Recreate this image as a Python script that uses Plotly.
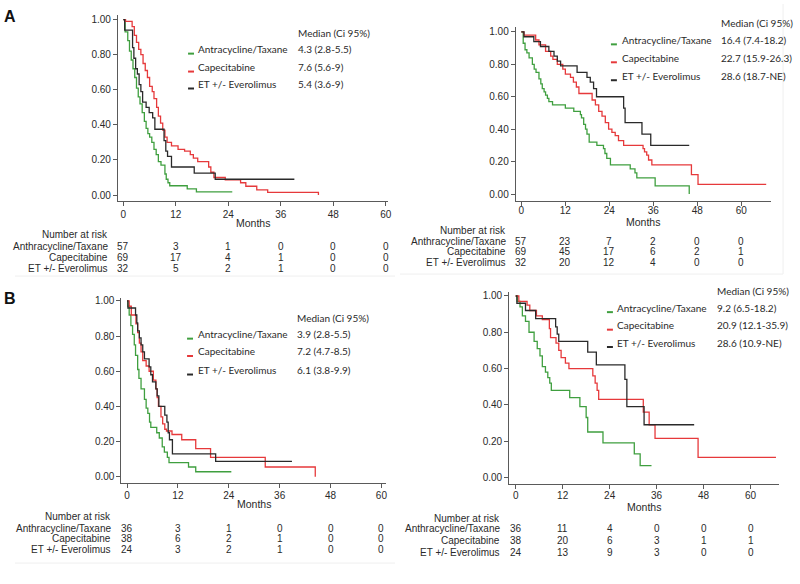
import plotly.graph_objects as go

W, H = 800, 584

# ---------------- data ----------------
month_ticks = [0, 12, 24, 36, 48, 60]
surv_ticks = [0.0, 0.2, 0.4, 0.6, 0.8, 1.0]
legend_names = ["Antracycline/Taxane", "Capecitabine", "ET +/- Everolimus"]
table_names = ["Anthracycline/Taxane", "Capecitabine", "ET +/- Everolimus"]
median_header = "Median (Ci 95%)"

# Panel A, left (PFS)
a_pfs_green_t = [0, 0.4, 1.0, 1.4, 1.8, 2.2, 2.6, 3.0, 3.4, 3.8, 4.3, 4.8, 5.2, 5.6, 6.0, 6.5, 7.0, 7.5, 8.0, 8.6, 9.5, 9.8, 10.2, 10.6, 14.6, 16.7, 24.9]
a_pfs_green_s = [1.0, 0.93, 0.88, 0.82, 0.77, 0.72, 0.67, 0.61, 0.56, 0.52, 0.47, 0.42, 0.38, 0.35, 0.33, 0.30, 0.26, 0.23, 0.19, 0.17, 0.12, 0.09, 0.07, 0.053, 0.035, 0.018, 0.018]
a_pfs_red_t = [0, 0.5, 2.0, 2.5, 3.0, 3.5, 4.0, 4.5, 5.0, 5.5, 6.0, 6.6, 7.0, 7.6, 8.0, 8.5, 9.0, 9.5, 10.0, 11.0, 12.5, 14.0, 15.3, 16.0, 17.0, 19.5, 20.0, 20.7, 23.3, 26.8, 28.0, 30.5, 33.0, 44.6]
a_pfs_red_s = [1.0, 0.99, 0.96, 0.91, 0.87, 0.83, 0.80, 0.75, 0.71, 0.67, 0.62, 0.59, 0.55, 0.50, 0.45, 0.41, 0.37, 0.33, 0.30, 0.28, 0.26, 0.25, 0.23, 0.21, 0.19, 0.16, 0.13, 0.10, 0.087, 0.07, 0.05, 0.03, 0.015, 0.0]
a_pfs_black_t = [0, 0.3, 2.1, 2.4, 2.8, 3.2, 3.6, 4.0, 4.4, 5.2, 5.9, 6.7, 7.2, 9.3, 9.7, 10.1, 11.0, 16.2, 21.0, 39.1]
a_pfs_black_s = [1.0, 0.94, 0.84, 0.78, 0.72, 0.69, 0.63, 0.59, 0.53, 0.50, 0.47, 0.44, 0.375, 0.31, 0.25, 0.22, 0.16, 0.125, 0.09, 0.09]
a_pfs_medians = ["4.3 (2.8-5.5)", "7.6 (5.6-9)", "5.4 (3.6-9)"]
a_pfs_risk_green = [57, 3, 1, 0, 0, 0]
a_pfs_risk_red = [69, 17, 4, 1, 0, 0]
a_pfs_risk_black = [32, 5, 2, 1, 0, 0]

# Panel A, right (OS)
a_os_green_t = [0, 0.5, 1.0, 1.5, 2.1, 3.0, 3.5, 4.0, 4.8, 5.3, 5.7, 6.2, 6.6, 7.1, 7.5, 8.5, 12.0, 14.3, 16.1, 16.4, 17.0, 17.5, 17.9, 18.5, 20.6, 22.4, 22.8, 23.3, 24.3, 29.7, 31.0, 31.5, 36.5, 45.8]
a_os_green_s = [1.0, 0.93, 0.89, 0.87, 0.84, 0.80, 0.77, 0.75, 0.71, 0.68, 0.65, 0.63, 0.61, 0.59, 0.57, 0.55, 0.53, 0.51, 0.49, 0.47, 0.43, 0.40, 0.37, 0.32, 0.30, 0.28, 0.25, 0.22, 0.18, 0.155, 0.13, 0.10, 0.05, 0.0]
a_os_red_t = [0, 0.7, 3.9, 4.8, 6.6, 8.0, 8.6, 9.8, 11.3, 12.0, 13.4, 14.2, 15.0, 15.7, 19.3, 20.2, 21.1, 22.0, 22.9, 23.8, 24.7, 25.6, 26.5, 27.9, 33.2, 33.6, 34.2, 34.7, 35.6, 46.4, 48.2, 66.8]
a_os_red_s = [1.0, 0.98, 0.95, 0.92, 0.88, 0.85, 0.83, 0.80, 0.77, 0.74, 0.72, 0.69, 0.66, 0.62, 0.58, 0.55, 0.51, 0.48, 0.44, 0.40, 0.38, 0.36, 0.33, 0.30, 0.28, 0.26, 0.24, 0.21, 0.18, 0.12, 0.06, 0.06]
a_os_black_t = [0, 0.7, 3.4, 5.2, 7.5, 8.9, 9.8, 10.7, 15.2, 17.9, 18.8, 19.7, 20.5, 27.9, 28.3, 32.9, 35.3, 45.8]
a_os_black_s = [1.0, 0.97, 0.94, 0.91, 0.88, 0.85, 0.82, 0.79, 0.75, 0.72, 0.69, 0.65, 0.60, 0.53, 0.44, 0.37, 0.30, 0.30]
a_os_medians = ["16.4 (7.4-18.2)", "22.7 (15.9-26.3)", "28.6 (18.7-NE)"]
a_os_risk_green = [57, 23, 7, 2, 0, 0]
a_os_risk_red = [69, 45, 17, 6, 2, 1]
a_os_risk_black = [32, 20, 12, 4, 0, 0]

# Panel B, left (PFS)
b_pfs_green_t = [0, 0.2, 0.5, 0.9, 1.3, 1.7, 2.0, 2.5, 2.8, 3.3, 4.1, 4.5, 4.9, 5.3, 5.6, 7.0, 7.6, 8.3, 8.8, 9.5, 9.9, 14.5, 16.2, 24.6]
b_pfs_green_s = [1.0, 0.97, 0.92, 0.86, 0.81, 0.75, 0.69, 0.61, 0.56, 0.50, 0.44, 0.39, 0.36, 0.31, 0.28, 0.25, 0.22, 0.17, 0.14, 0.11, 0.08, 0.055, 0.028, 0.028]
b_pfs_red_t = [0, 0.5, 1.0, 2.1, 2.5, 2.9, 3.3, 3.7, 4.5, 5.2, 6.2, 6.8, 7.1, 7.4, 8.0, 8.4, 8.9, 9.3, 10.6, 12.9, 16.2, 19.7, 32.6, 44.4]
b_pfs_red_s = [1.0, 0.97, 0.92, 0.87, 0.82, 0.76, 0.71, 0.66, 0.63, 0.60, 0.55, 0.50, 0.45, 0.40, 0.34, 0.30, 0.27, 0.26, 0.24, 0.21, 0.16, 0.11, 0.055, 0.0]
b_pfs_black_t = [0, 0.2, 2.0, 2.3, 2.5, 2.9, 3.3, 3.7, 4.1, 5.2, 5.6, 6.0, 6.8, 7.1, 7.5, 8.9, 9.4, 9.7, 10.0, 10.7, 20.9, 38.9]
b_pfs_black_s = [1.0, 0.96, 0.92, 0.875, 0.83, 0.79, 0.75, 0.71, 0.67, 0.625, 0.58, 0.54, 0.50, 0.46, 0.40, 0.35, 0.31, 0.25, 0.21, 0.13, 0.087, 0.087]
b_pfs_medians = ["3.9 (2.8-5.5)", "7.2 (4.7-8.5)", "6.1 (3.8-9.9)"]
b_pfs_risk_green = [36, 3, 1, 0, 0, 0]
b_pfs_risk_red = [38, 6, 2, 1, 0, 0]
b_pfs_risk_black = [24, 3, 2, 1, 0, 0]

# Panel B, right (OS)
b_os_green_t = [0, 0.4, 1.1, 1.7, 2.5, 3.4, 4.7, 5.5, 6.2, 6.8, 7.6, 8.2, 8.7, 9.1, 13.8, 16.4, 18.0, 18.4, 22.3, 30.3, 31.8, 34.7]
b_os_green_s = [1.0, 0.97, 0.94, 0.89, 0.86, 0.80, 0.75, 0.71, 0.67, 0.61, 0.58, 0.55, 0.52, 0.48, 0.44, 0.39, 0.33, 0.25, 0.19, 0.13, 0.065, 0.065]
b_os_red_t = [0, 0.8, 2.9, 3.6, 5.3, 6.8, 8.6, 8.9, 10.3, 11.0, 11.6, 12.7, 13.6, 19.7, 20.3, 20.8, 21.2, 32.6, 34.1, 35.6, 46.6, 66.5]
b_os_red_s = [1.0, 0.97, 0.95, 0.92, 0.89, 0.87, 0.82, 0.77, 0.74, 0.70, 0.66, 0.63, 0.60, 0.56, 0.52, 0.48, 0.43, 0.36, 0.29, 0.215, 0.11, 0.11]
b_os_black_t = [0, 0.3, 2.5, 5.1, 10.2, 10.6, 11.0, 18.4, 20.6, 27.9, 28.4, 32.8, 45.6]
b_os_black_s = [1.0, 0.96, 0.92, 0.875, 0.83, 0.79, 0.75, 0.69, 0.62, 0.54, 0.39, 0.29, 0.29]
b_os_medians = ["9.2 (6.5-18.2)", "20.9 (12.1-35.9)", "28.6 (10.9-NE)"]
b_os_risk_green = [36, 11, 4, 0, 0, 0]
b_os_risk_red = [38, 20, 6, 3, 1, 1]
b_os_risk_black = [24, 13, 9, 3, 0, 0]

# ---------------- styling / layout ----------------
COLORS = ["#3f9f3f", "#e6393b", "#2a2a2a"]
AXC = "#5a5a5a"
TXT = "#2a2a2a"
ARIAL = "Liberation Sans, Arial, sans-serif"
CAL = "Lato, Carlito, Calibri, sans-serif"
LEG_SIZE = 10

def px_x(p):
    return p / W

def px_y(p):
    return 1 - p / H

panels = [
    dict(curves=[(a_pfs_green_t, a_pfs_green_s), (a_pfs_red_t, a_pfs_red_s), (a_pfs_black_t, a_pfs_black_s)],
         risks=[a_pfs_risk_green, a_pfs_risk_red, a_pfs_risk_black], medians=a_pfs_medians,
         g=dict(al=118.5, ar=390, at=13, ab=200, x0=124, x60=387.7, y1=17.7, y0=193.7),
         leg=dict(seg=189, txt=197, val=297, hdr_y=31, rows=[47.3, 65.3, 82.3]),
         tab=dict(lab=111, hdr=233, rows=[245, 256.5, 267.5]), months_y=222, stand=0),
    dict(curves=[(a_os_green_t, a_os_green_s), (a_os_red_t, a_os_red_s), (a_os_black_t, a_os_black_s)],
         risks=[a_os_risk_green, a_os_risk_red, a_os_risk_black], medians=a_os_medians,
         g=dict(al=518.3, ar=775, at=25, ab=200, x0=524, x60=745, y1=30, y0=192.7),
         leg=dict(seg=614, txt=622.7, val=722.7, hdr_y=21, rows=[38, 56, 74]),
         tab=dict(lab=511, hdr=229, rows=[240, 250.5, 261]), months_y=220.5, stand=-4),
    dict(curves=[(b_pfs_green_t, b_pfs_green_s), (b_pfs_red_t, b_pfs_red_s), (b_pfs_black_t, b_pfs_black_s)],
         risks=[b_pfs_risk_green, b_pfs_risk_red, b_pfs_risk_black], medians=b_pfs_medians,
         g=dict(al=122, ar=388, at=296.7, ab=482.3, x0=127.7, x60=383.3, y1=300, y0=476.3),
         leg=dict(seg=188, txt=196.7, val=296.7, hdr_y=316.7, rows=[333.3, 350.7, 369.3]),
         tab=dict(lab=113.3, hdr=516.7, rows=[528.3, 538.8, 549.3]), months_y=504, stand=-1),
    dict(curves=[(b_os_green_t, b_os_green_s), (b_os_red_t, b_os_red_s), (b_os_black_t, b_os_black_s)],
         risks=[b_os_risk_green, b_os_risk_red, b_os_risk_black], medians=b_os_medians,
         g=dict(al=511.7, ar=783, at=290.7, ab=483.3, x0=518.3, x60=754.3, y1=295, y0=477),
         leg=dict(seg=610, txt=618.3, val=718.3, hdr_y=290, rows=[306.7, 324.3, 341.7]),
         tab=dict(lab=505, hdr=518.3, rows=[528.3, 540.5, 552.7]), months_y=506.5, stand=-2),
]

fig = go.Figure()
layout = dict(width=W, height=H, margin=dict(l=0, r=0, t=0, b=0),
              paper_bgcolor="white", plot_bgcolor="white", showlegend=False)
annotations = []
shapes = []

for i, p in enumerate(panels, start=1):
    g = p["g"]
    kx = (g["x60"] - g["x0"]) / 60.0
    ky = (g["y0"] - g["y1"])
    xr = [(g["al"] - g["x0"]) / kx, (g["ar"] - g["x0"]) / kx]
    yr = [-(g["ab"] - g["y0"]) / ky, 1 + (g["y1"] - g["at"]) / ky]
    xa = "xaxis" if i == 1 else f"xaxis{i}"
    ya = "yaxis" if i == 1 else f"yaxis{i}"
    xref = "x" if i == 1 else f"x{i}"
    yref = "y" if i == 1 else f"y{i}"
    common = dict(showline=True, linecolor=AXC, linewidth=1, ticks="outside", ticklen=4,
                  tickcolor=AXC, tickwidth=1, showgrid=False, zeroline=False,
                  tickfont=dict(family=ARIAL, size=10, color=TXT), fixedrange=True)
    layout[xa] = dict(domain=[px_x(g["al"]), px_x(g["ar"])], range=xr, anchor=yref,
                      tickvals=month_ticks, ticklabelstandoff=p["stand"], **common)
    layout[ya] = dict(domain=[px_y(g["ab"]), px_y(g["at"])], range=yr, anchor=xref,
                      tickvals=surv_ticks, tickformat=".2f", **common)
    for (t, s), c in zip(p["curves"], COLORS):
        fig.add_trace(go.Scatter(x=t, y=s, mode="lines", line=dict(color=c, width=1.3, shape="hv"),
                                 xaxis=xref, yaxis=yref, hoverinfo="skip"))
    # legend block
    L = p["leg"]
    annotations.append(dict(text=median_header, x=px_x(L["val"]), y=px_y(L["hdr_y"]), xref="paper", yref="paper",
                            xanchor="left", yanchor="middle", showarrow=False,
                            font=dict(family=CAL, size=LEG_SIZE, color=TXT)))
    for name, med, c, ry in zip(legend_names, p["medians"], COLORS, L["rows"]):
        annotations.append(dict(text=name, x=px_x(L["txt"]), y=px_y(ry), xref="paper", yref="paper",
                                xanchor="left", yanchor="middle", showarrow=False,
                                font=dict(family=CAL, size=LEG_SIZE, color=TXT)))
        annotations.append(dict(text=med, x=px_x(L["val"]), y=px_y(ry), xref="paper", yref="paper",
                                xanchor="left", yanchor="middle", showarrow=False,
                                font=dict(family=CAL, size=LEG_SIZE, color=TXT)))
        shapes.append(dict(type="line", xref="paper", yref="paper",
                           x0=px_x(L["seg"]), x1=px_x(L["seg"] + 6), y0=px_y(ry + 4.5), y1=px_y(ry + 4.5),
                           line=dict(color=c, width=2)))
    # Months label
    annotations.append(dict(text="Months", x=(px_x(g["al"]) + px_x(g["ar"])) / 2, y=px_y(p["months_y"]),
                            xref="paper", yref="paper", xanchor="center", yanchor="middle", showarrow=False,
                            font=dict(family=ARIAL, size=10.5, color=TXT)))
    # number at risk table
    T = p["tab"]
    annotations.append(dict(text="Number at risk", x=px_x(T["lab"]), y=px_y(T["hdr"]), xref="paper", yref="paper",
                            xanchor="right", yanchor="middle", showarrow=False,
                            font=dict(family=ARIAL, size=10, color=TXT)))
    for name, risk, ry in zip(table_names, p["risks"], T["rows"]):
        annotations.append(dict(text=name, x=px_x(T["lab"]), y=px_y(ry), xref="paper", yref="paper",
                                xanchor="right", yanchor="middle", showarrow=False,
                                font=dict(family=ARIAL, size=10, color=TXT)))
        for m, n in zip(month_ticks, risk):
            annotations.append(dict(text=str(n), x=m, y=px_y(ry), xref=xref, yref="paper",
                                    xanchor="center", yanchor="middle", showarrow=False,
                                    font=dict(family=ARIAL, size=10, color=TXT)))

# panel letters
annotations.append(dict(text="<b>A</b>", x=px_x(2), y=px_y(15), xref="paper", yref="paper",
                        xanchor="left", yanchor="middle", showarrow=False,
                        font=dict(family=ARIAL, size=16, color="#111")))
annotations.append(dict(text="<b>B</b>", x=px_x(2), y=px_y(298), xref="paper", yref="paper",
                        xanchor="left", yanchor="middle", showarrow=False,
                        font=dict(family=ARIAL, size=16, color="#111")))

# faint panel frame lines
for (x0, y0, x1, y1) in [(15, 275, 397, 275), (402, 273, 787, 273), (787, 2, 787, 273), (15, 563, 397, 563)]:
    shapes.append(dict(type="line", xref="paper", yref="paper", x0=px_x(x0), x1=px_x(x1),
                       y0=px_y(y0), y1=px_y(y1), line=dict(color="#efefef", width=1)))

layout["annotations"] = annotations
layout["shapes"] = shapes
fig.update_layout(**layout)
fig.write_html("out.html")
